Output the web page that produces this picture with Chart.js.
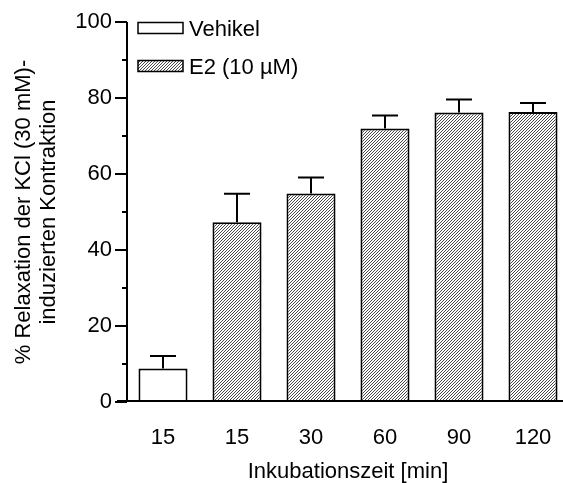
<!DOCTYPE html>
<html>
<head>
<meta charset="utf-8">
<script src="https://cdn.jsdelivr.net/npm/chart.js@4.4.0/dist/chart.umd.min.js"></script>
<style>
  html, body { margin: 0; padding: 0; background: #fff; overflow: hidden; }
  #wrap { width: 600px; height: 483px; }
</style>
</head>
<body>
<div id="wrap"><canvas id="chart" width="600" height="483"></canvas></div>
<script>
// Werte
const kategorien = ['15', '15', '30', '60', '90', '120'];
const serien = ['Vehikel', 'E2 (10 µM)'];
const vehikel = [8.8, null, null, null, null, null];
const vehikelFehler = [3.3, null, null, null, null, null];
const e2 = [null, 47.3, 54.9, 72.0, 76.2, 76.3];
const e2Fehler = [null, 7.5, 4.2, 3.4, 3.4, 2.4];
const yTicks = [0, 20, 40, 60, 80, 100];

const schrift = 'Liberation Sans, Arial, sans-serif';

// feines schraffiertes Muster fuer E2
function schraffur() {
  const c = document.createElement('canvas');
  c.width = 3; c.height = 3;
  const g = c.getContext('2d');
  g.fillStyle = '#fff';
  g.fillRect(0, 0, 3, 3);
  g.fillStyle = '#4a4a4a';
  for (let i = 0; i < 3; i++) g.fillRect(i, 2 - i, 1, 1);
  return g.createPattern(c, 'repeat');
}
const muster = schraffur();

// Achsen, Fehlerbalken und Legende
const extras = {
  id: 'extras',
  afterDatasetsDraw(chart) {
    const ctx = chart.ctx;
    const y = chart.scales.y;
    const a = chart.chartArea;
    ctx.save();
    ctx.strokeStyle = '#000';
    ctx.lineWidth = 2;

    // Fehlerbalken (nur nach oben)
    [[vehikel, vehikelFehler], [e2, e2Fehler]].forEach(([werte, fehler], d) => {
      chart.getDatasetMeta(d).data.forEach((bar, i) => {
        if (werte[i] == null) return;
        const oben = y.getPixelForValue(werte[i]);
        const spitze = y.getPixelForValue(werte[i] + fehler[i]);
        ctx.beginPath();
        ctx.moveTo(bar.x, oben);
        ctx.lineTo(bar.x, spitze);
        ctx.moveTo(bar.x - 13, spitze);
        ctx.lineTo(bar.x + 13, spitze);
        ctx.stroke();
      });
    });

    // y-Achse mit Haupt- und Nebenstrichen
    const ax = a.left + 1;
    ctx.beginPath();
    ctx.moveTo(ax, a.top);
    ctx.lineTo(ax, a.bottom);
    for (let v = 0; v <= 100; v += 10) {
      const py = Math.round(y.getPixelForValue(v));
      ctx.moveTo(ax - (yTicks.includes(v) ? 12 : 5), py);
      ctx.lineTo(ax, py);
    }
    // x-Achse
    ctx.moveTo(ax - 10, a.bottom - 1);
    ctx.lineTo(a.right, a.bottom - 1);
    ctx.stroke();

    // Legende
    ctx.lineWidth = 1.5;
    ctx.font = '22px ' + schrift;
    ctx.textBaseline = 'middle';
    const fuellungen = ['#fff', muster];
    serien.forEach((name, i) => {
      const by = a.top + 0.5 + i * 38;
      ctx.fillStyle = fuellungen[i];
      ctx.fillRect(a.left + 12, by, 45, 11);
      ctx.strokeRect(a.left + 12, by, 45, 11);
      ctx.fillStyle = '#000';
      ctx.fillText(name, a.left + 63, by + 7.5);
    });
    ctx.restore();
  }
};

new Chart(document.getElementById('chart'), {
  type: 'bar',
  data: {
    labels: kategorien,
    datasets: [
      {
        label: serien[0],
        data: vehikel,
        backgroundColor: '#fff',
        borderColor: '#000',
        borderWidth: 2,
        barPercentage: 0.663,
        categoryPercentage: 1
      },
      {
        label: serien[1],
        data: e2,
        backgroundColor: muster,
        borderColor: '#000',
        borderWidth: 2,
        barPercentage: 0.663,
        categoryPercentage: 1
      }
    ]
  },
  options: {
    responsive: false,
    animation: false,
    layout: { padding: { left: 0, top: 22, right: 30, bottom: 0 } },
    plugins: {
      legend: { display: false },
      tooltip: { enabled: false }
    },
    scales: {
      x: {
        stacked: true,
        grid: { display: false },
        border: { display: false },
        ticks: { color: '#000', font: { family: schrift, size: 22 }, padding: 15 },
        title: {
          display: true,
          text: 'Inkubationszeit [min]',
          color: '#000',
          font: { family: schrift, size: 22, lineHeight: 1.0 },
          padding: { top: 0, bottom: 0 }
        },
        afterFit(s) { s.height = 81; }
      },
      y: {
        stacked: true,
        min: 0,
        max: 100,
        grid: { display: false },
        border: { display: false },
        ticks: {
          stepSize: 10,
          color: '#000',
          font: { family: schrift, size: 22 },
          padding: 6,
          callback: v => (yTicks.includes(v) ? v : '')
        },
        title: {
          display: true,
          text: ['% Relaxation der KCl (30 mM)-', 'induzierten Kontraktion'],
          color: '#000',
          font: { family: schrift, size: 22, lineHeight: 1.15 },
          padding: { top: 11, bottom: 0 }
        },
        afterFit(s) { s.width = 126; }
      }
    }
  },
  plugins: [extras]
});
</script>
</body>
</html>
